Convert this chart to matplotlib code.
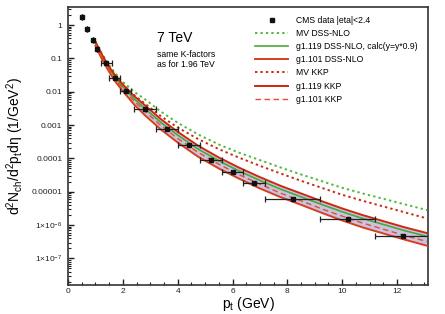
import numpy as np
import matplotlib
matplotlib.use("Agg")
import matplotlib.pyplot as plt
from matplotlib.ticker import FixedLocator, FixedFormatter, LogLocator, MultipleLocator, NullFormatter

plt.rcParams['font.family'] = ['Liberation Sans', 'DejaVu Sans']
plt.rcParams['mathtext.fontset'] = 'custom'
plt.rcParams['mathtext.rm'] = 'Liberation Sans'
plt.rcParams['mathtext.it'] = 'Liberation Sans:italic'

# CMS data
cms_pt = [0.5, 0.7, 0.9, 1.05, 1.4, 1.7, 2.1, 2.8, 3.6, 4.4, 5.2, 6.0, 6.8, 8.2, 10.2, 12.2]
cms_y = [1.75, 0.74, 0.35, 0.19, 0.071, 0.026, 0.0105, 0.003, 7.6e-4, 2.5e-4,
         9.3e-5, 3.8e-5, 1.8e-5, 5.9e-6, 1.5e-6, 4.7e-7]
cms_xerr = [0, 0, 0, 0, 0.2, 0.2, 0.2, 0.4, 0.4, 0.4, 0.4, 0.4, 0.4, 1.0, 1.0, 1.0]

# theory curves (log10 values)
curve_pt = [1.0, 1.25, 1.5, 1.75, 2.0, 2.4, 2.8, 3.4, 4.0, 4.75, 5.5, 6.25, 7.0,
            7.75, 8.5, 9.25, 10.0, 10.75, 11.5, 12.3, 13.1]
mv_dss_log = [-0.50, -0.88, -1.20, -1.47, -1.70, -1.99, -2.22, -2.60, -2.93, -3.28, -3.58,
              -3.83, -4.05, -4.27, -4.48, -4.68, -4.88, -5.05, -5.21, -5.38, -5.55]
g1119_dss_log = [-0.55, -0.95, -1.30, -1.60, -1.85, -2.20, -2.50, -2.93, -3.30, -3.72, -4.07,
                 -4.38, -4.66, -4.92, -5.15, -5.38, -5.60, -5.80, -5.98, -6.17, -6.34]
g1101_dss_log = [-0.62, -1.04, -1.40, -1.72, -1.98, -2.37, -2.70, -3.14, -3.52, -3.95, -4.30,
                 -4.61, -4.90, -5.16, -5.39, -5.63, -5.86, -6.07, -6.25, -6.44, -6.62]
mv_kkp_log = [-0.51, -0.90, -1.24, -1.53, -1.78, -2.09, -2.35, -2.74, -3.07, -3.42, -3.72,
              -3.98, -4.22, -4.45, -4.67, -4.88, -5.09, -5.27, -5.44, -5.62, -5.80]
g1119_kkp_log = [-0.50, -0.90, -1.25, -1.54, -1.78, -2.12, -2.40, -2.83, -3.20, -3.62, -3.97,
                 -4.28, -4.56, -4.82, -5.05, -5.28, -5.50, -5.70, -5.88, -6.07, -6.24]
g1101_kkp_log = [-0.57, -0.98, -1.34, -1.65, -1.91, -2.27, -2.58, -3.02, -3.40, -3.82, -4.17,
                 -4.49, -4.77, -5.04, -5.27, -5.51, -5.73, -5.94, -6.12, -6.32, -6.49]

ytick_vals = [1, 0.1, 0.01, 0.001, 0.0001, 0.00001, 1e-6, 1e-7]
ytick_labels = ['1', '0.1', '0.01', '0.001', '0.0001', '0.00001',
                r'1$\times$10$^{-6}$', r'1$\times$10$^{-7}$']

fig = plt.figure(figsize=(4.45, 3.14), dpi=100)
ax = fig.add_axes([0.1528, 0.0924, 0.8090, 0.8853])

x = np.array(curve_pt)
to_lin = lambda v: 10.0 ** np.array(v)

red = '#cc2a10'
red2 = '#d8401c'
green = '#4aa83a'

ax.fill_between(x, to_lin(g1101_dss_log), to_lin(g1119_kkp_log), color='#c9c3e3', lw=0, zorder=1)
l_mvdss, = ax.plot(x, to_lin(mv_dss_log), color='#55b83c', ls=(0, (1.2, 1.6)), lw=1.4, zorder=3)
l_g119dss, = ax.plot(x, to_lin(g1119_dss_log), color=green, lw=1.2, zorder=4)
l_g101dss, = ax.plot(x, to_lin(g1101_dss_log), color=red2, lw=1.4, zorder=4)
l_mvkkp, = ax.plot(x, to_lin(mv_kkp_log), color=red, ls=(0, (1.2, 1.6)), lw=1.4, zorder=3)
l_g119kkp, = ax.plot(x, to_lin(g1119_kkp_log), color=red, lw=1.4, zorder=4)
l_g101kkp, = ax.plot(x, to_lin(g1101_kkp_log), color='#e0502a', ls=(0, (4, 2.5)), lw=1.0, zorder=4)

ax.errorbar(cms_pt, cms_y, xerr=cms_xerr, fmt='none', ecolor='#222222', elinewidth=0.9,
            capsize=2, capthick=0.9, zorder=5)
h_cms, = ax.plot(cms_pt, cms_y, 's', color='#111111', ms=3.4, zorder=6, ls='none')

ax.set_yscale('log')
ax.set_xlim(0, 13.13)
ax.set_ylim(1.6e-8, 3.5)

ax.yaxis.set_major_locator(FixedLocator(ytick_vals))
ax.yaxis.set_major_formatter(FixedFormatter(ytick_labels))
ax.yaxis.set_minor_locator(LogLocator(base=10, subs=np.arange(2, 10), numticks=20))
ax.yaxis.set_minor_formatter(NullFormatter())
ax.xaxis.set_major_locator(MultipleLocator(2))
ax.xaxis.set_minor_locator(MultipleLocator(0.5))

ax.tick_params(which='both', direction='in', top=False, right=False, labelsize=6, colors='#222222')
ax.tick_params(axis='y', pad=4)
ax.tick_params(axis='x', pad=2.5)
ax.tick_params(which='major', length=4, width=1.0)
ax.tick_params(which='minor', length=2, width=0.8)
for s in ax.spines.values():
    s.set_color('#333333')
    s.set_linewidth(1.2)

ax.set_xlabel(r'$\mathrm{p_t}$ (GeV)', fontsize=10, labelpad=0)
ax.set_ylabel(r'$\mathrm{d^2N_{ch}/d^2p_td\eta}$ (1/GeV$^2$)', fontsize=10, labelpad=4)

ax.text(0.247, 0.89, '7 TeV', transform=ax.transAxes, fontsize=10, va='center', ha='left')
ax.text(0.247, 0.83, 'same K-factors', transform=ax.transAxes, fontsize=6.2, va='center', ha='left')
ax.text(0.247, 0.794, 'as for 1.96 TeV', transform=ax.transAxes, fontsize=6.2, va='center', ha='left')

handles = [h_cms, l_mvdss, l_g119dss, l_g101dss, l_mvkkp, l_g119kkp, l_g101kkp]
labels = ['CMS data |eta|<2.4', 'MV DSS-NLO', 'g1.119 DSS-NLO, calc(y=y*0.9)', 'g1.101 DSS-NLO',
          'MV KKP', 'g1.119 KKP', 'g1.101 KKP']
leg = ax.legend(handles, labels, loc='upper left', bbox_to_anchor=(0.52, 0.968), frameon=False,
                fontsize=6.2, handlelength=3.8, handletextpad=0.9, labelspacing=0.48,
                borderpad=0, borderaxespad=0)
leg.legend_handles[0].set_markersize(3.2)

fig.savefig('out.png', dpi=100)
